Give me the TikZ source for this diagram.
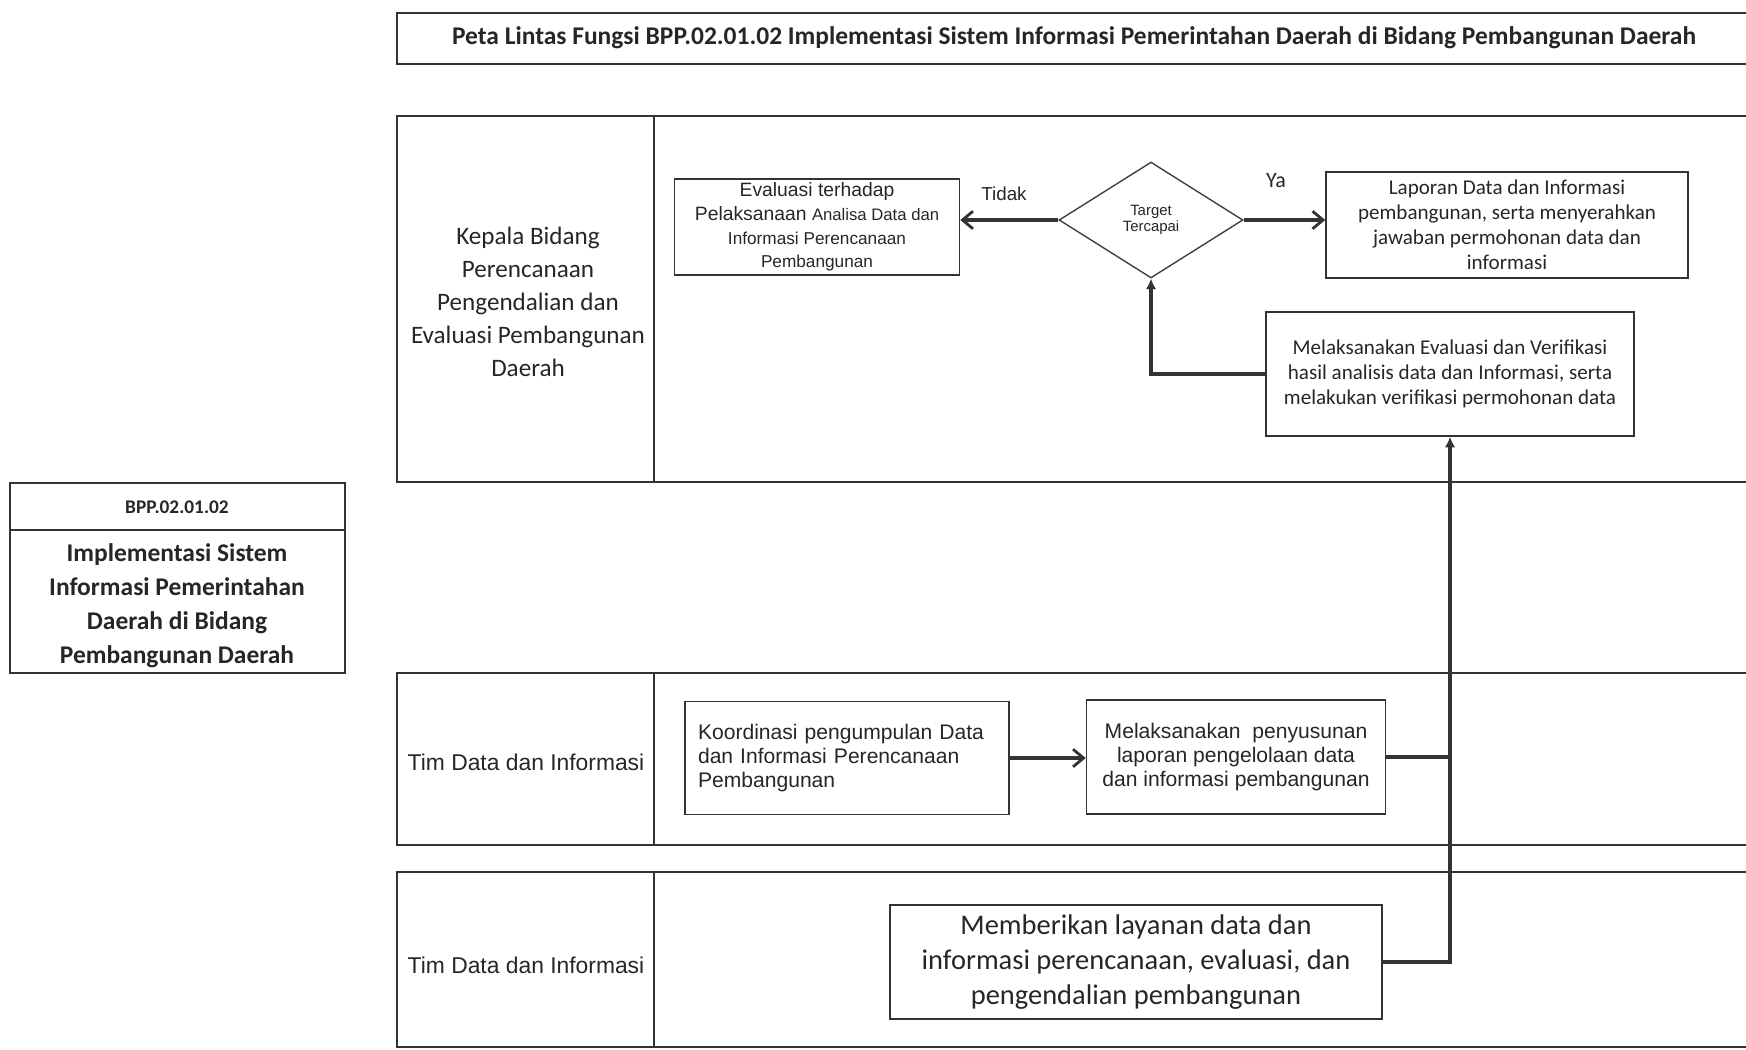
\documentclass[tikz,border=0pt]{standalone}
\usepackage{fontspec}
\setmainfont{Carlito}
\newfontfamily\arialfont{Liberation Sans}
\usetikzlibrary{shapes.geometric}
\usetikzlibrary{arrows.meta}
\tikzset{
    lane/.style = {draw=black!80, line width=1pt},
    box/.style = {rectangle, draw=black!80, line width=0.9pt, align=center, text=black!85, inner sep=2pt},
    decision/.style = {diamond, draw=black!75, line width=0.8pt, align=center, text=black!85, inner sep=0pt, font=\arialfont\fontsize{8.5}{9.5}\selectfont},
    lanetext/.style = {align=center, text=black!85},
    edgen/.style = {-{Straight Barb[length=6pt,width=10pt,line width=1.6pt]}, line width=1.9pt, draw=black!80},
    edgeu/.style = {-{Latex[length=6pt,width=6pt]}, line width=1.9pt, draw=black!80},
    edgep/.style = {line width=1.9pt, draw=black!80}, % join without tip
}

\begin{document}
\begin{tikzpicture}[x=0.02cm, y=-0.02cm]
\useasboundingbox (0,0) rectangle (1746,1049);
%
% title and lanes
\draw[lane] (1746,13) -- (397,13) -- (397,64) -- (1746,64);
\draw[lane] (1746,116) -- (397,116) -- (397,482) -- (1746,482);
\draw[lane] (654,116) -- (654,482);
\draw[lane] (1746,673) -- (397,673) -- (397,845) -- (1746,845);
\draw[lane] (654,673) -- (654,845);
\draw[lane] (1746,872) -- (397,872) -- (397,1047) -- (1746,1047);
\draw[lane] (654,872) -- (654,1047);
\draw[lane] (10,483) rectangle (345,673);
\draw[lane] (10,530) -- (345,530);
%
\node[lanetext, font=\bfseries\fontsize{14.5}{17}\selectfont] at (1074,38) (title) {Peta Lintas Fungsi BPP.02.01.02 Implementasi Sistem Informasi Pemerintahan Daerah di Bidang Pembangunan Daerah};
\node[lanetext, font=\bfseries\fontsize{11}{13}\selectfont] at (177,507) (kode) {BPP.02.01.02};
\node[lanetext, font=\bfseries\fontsize{14.5}{19.3}\selectfont] at (177,606) (judul) {Implementasi Sistem\\Informasi Pemerintahan\\Daerah di Bidang\\Pembangunan Daerah};
\node[lanetext, font=\fontsize{14.3}{18.8}\selectfont] at (528,302) (kabid) {Kepala Bidang\\Perencanaan\\Pengendalian dan\\Evaluasi Pembangunan\\Daerah};
\node[lanetext, font=\arialfont\fontsize{13}{15}\selectfont] at (526,762) (tim1) {Tim Data dan Informasi};
\node[lanetext, font=\arialfont\fontsize{13}{15}\selectfont] at (526,965) (tim2) {Tim Data dan Informasi};
%
% process boxes
\node[box, minimum width=5.70cm, minimum height=1.86cm, font=\arialfont\fontsize{11}{13.5}\selectfont] at (817,227) (eval) {Evaluasi terhadap\\Pelaksanaan {\fontsize{9.5}{13.5}\selectfont Analisa Data dan}\\{\fontsize{9.8}{13.5}\selectfont Informasi Perencanaan}\\{\fontsize{9.8}{13.5}\selectfont Pembangunan}};
\node[decision, minimum width=3.68cm, minimum height=2.32cm] at (1151,220) (target) {Target\\Tercapai};
\node[box, minimum width=7.24cm, minimum height=2.12cm, font=\fontsize{12}{14.2}\selectfont] at (1507,225) (lapor) {Laporan Data dan Informasi\\pembangunan, serta menyerahkan\\jawaban permohonan data dan\\informasi};
\node[box, minimum width=7.36cm, minimum height=2.48cm, font=\fontsize{12}{14.2}\selectfont] at (1450,374) (verif) {Melaksanakan Evaluasi dan Verifikasi\\hasil analisis data dan Informasi, serta\\melakukan verifikasi permohonan data};
\node[box, minimum width=6.48cm, minimum height=2.26cm, align=left, text width=5.96cm, font=\arialfont\fontsize{12}{13.7}\selectfont] at (847,758) (koord) {Koordinasi pengumpulan Data\\dan Informasi Perencanaan\\Pembangunan};
\node[box, minimum width=5.98cm, minimum height=2.28cm, font=\arialfont\fontsize{12}{13.7}\selectfont] at (1236,757) (susun) {Melaksanakan~ penyusunan\\laporan pengelolaan data\\dan informasi pembangunan};
\node[box, minimum width=9.84cm, minimum height=2.28cm, font=\fontsize{16.2}{19.7}\selectfont] at (1136,962) (layan) {Memberikan layanan data dan\\informasi perencanaan, evaluasi, dan\\pengendalian pembangunan};
%
\node[lanetext, font=\arialfont\fontsize{10.7}{13}\selectfont] at (1004,194) (tidak) {Tidak};
\node[lanetext, font=\fontsize{12.5}{14}\selectfont] at (1276,181) (ya) {Ya};
%
% connectors
\draw[edgen] (target.west) -- (target.west -| eval.east);
\draw[edgen] (target.east) -- (target.east -| lapor.west);
\draw[edgeu] (verif.west) -| (target.south);
\draw[edgen] (koord.east) -- (koord.east -| susun.west);
\draw[edgeu] (susun.east) -| (verif.south);
\draw[edgep] (layan.east) -| (susun.east -| verif.south);

\end{tikzpicture}
\end{document}
